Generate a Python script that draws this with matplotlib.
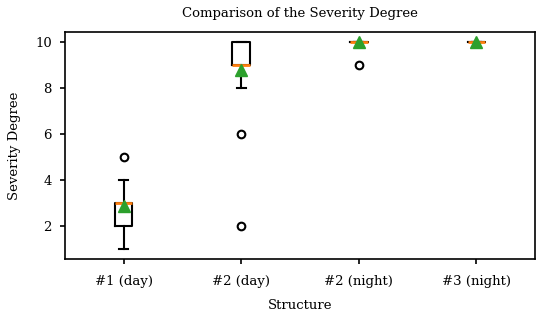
import matplotlib
matplotlib.use("Agg")
import matplotlib.pyplot as plt

LABELS = ["#1 (day)", "#2 (day)", "#2 (night)", "#3 (night)"]
Q1 = [2, 9, 10, 10]
MEDIAN = [3, 9, 10, 10]
Q3 = [3, 10, 10, 10]
WHISLO = [1, 8, 10, 10]
WHISHI = [4, 10, 10, 10]
MEAN = [2.85, 8.8, 10, 10]
FLIERS = [[5], [6, 2], [9], []]

plt.rcParams["font.family"] = ["DejaVu Serif"]

stats = []
for i in range(len(LABELS)):
    stats.append(dict(label=LABELS[i], q1=Q1[i], med=MEDIAN[i], q3=Q3[i],
                      whislo=WHISLO[i], whishi=WHISHI[i], mean=MEAN[i],
                      fliers=FLIERS[i]))

fig = plt.figure(figsize=(5.5, 3.23), dpi=100)
ax = fig.add_axes([0.118, 0.198, 0.855, 0.703])

lw = 1.5
ax.bxp(stats, widths=0.15, showmeans=True,
       boxprops=dict(color="black", linewidth=lw),
       whiskerprops=dict(color="black", linewidth=lw),
       capprops=dict(color="black", linewidth=lw),
       medianprops=dict(color="#ff7f0e", linewidth=2.0),
       meanprops=dict(marker="^", markerfacecolor="#2ca02c",
                      markeredgecolor="#2ca02c", markersize=8),
       flierprops=dict(marker="o", markerfacecolor="none",
                       markeredgecolor="black", markeredgewidth=lw,
                       markersize=5.5))

ax.set_xlim(0.5, 4.5)
ax.set_ylim(0.55, 10.45)
ax.set_yticks([2, 4, 6, 8, 10])
for s in ax.spines.values():
    s.set_linewidth(1.2)
ax.tick_params(width=1.2, labelsize=9.5)
ax.tick_params(axis="x", pad=8)
ax.tick_params(axis="y", pad=6)
ax.set_title("Comparison of the Severity Degree", fontsize=9.5, pad=11)
ax.set_xlabel("Structure", fontsize=9.5, labelpad=8)
ax.set_ylabel("Severity Degree", fontsize=9.5, labelpad=10)

fig.savefig("out.png", dpi=100)
